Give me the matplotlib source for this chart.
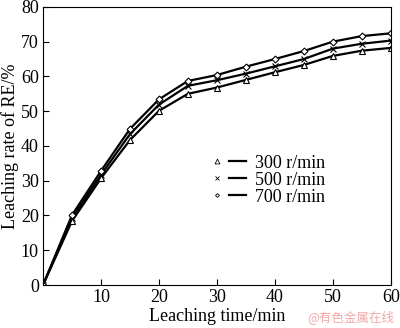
import matplotlib.pyplot as plt
from matplotlib.lines import Line2D
from matplotlib.legend_handler import HandlerTuple

plt.rcParams['font.family'] = ['Liberation Serif', 'DejaVu Serif']
plt.rcParams['mathtext.fontset'] = 'stix'

# Leaching time (min) and RE leaching rate (%) at each stirring speed
time_min = [0, 5, 10, 15, 20, 25, 30, 35, 40, 45, 50, 55, 60]
rate_300 = [0, 18.4, 30.7, 41.7, 50.1, 55.0, 56.8, 59.0, 61.2, 63.3, 65.9, 67.4, 68.2]
rate_500 = [0, 19.2, 31.7, 43.4, 51.9, 57.3, 58.9, 60.8, 62.9, 65.0, 68.0, 69.4, 70.3]
rate_700 = [0, 20.1, 32.8, 44.9, 53.4, 58.7, 60.4, 62.8, 65.0, 67.3, 70.0, 71.6, 72.4]
labels = ['300 r/min', '500 r/min', '700 r/min']
markers = ['^', 'x', 'D']
msizes = [5, 4.5, 3.5]

fig = plt.figure(figsize=(4.0, 3.28), dpi=100)
ax = fig.add_axes([0.1075, 0.131, 0.8695, 0.848])

handles = []
for rate, mk, ms, lab in zip([rate_300, rate_500, rate_700], markers, msizes, labels):
    ax.plot(time_min, rate, color='black', lw=1.6, marker=mk, ms=ms,
            mfc='white', mec='black', mew=0.8)
    mh = Line2D([], [], ls='none', marker=mk, ms=ms - 1.5, mfc='white',
                mec='black', mew=0.6)
    lh = Line2D([], [], color='black', lw=1.6)
    handles.append(((mh, lh), lab))

ax.legend([h for h, _ in handles], [l for _, l in handles],
          handler_map={tuple: HandlerTuple(ndivide=None, pad=0.2)},
          loc='upper left', bbox_to_anchor=(0.455, 0.495), frameon=False,
          fontsize=13, handlelength=2.1, handletextpad=0.5,
          labelspacing=0.0, borderaxespad=0)

ax.set_xlim(0, 60)
ax.set_ylim(0, 80)
ax.set_xticks(range(0, 61, 10))
ax.set_xticklabels([''] + [str(v) for v in range(10, 61, 10)])
ax.set_yticks(range(0, 81, 10))
ax.tick_params(direction='in', length=4, width=0.8, labelsize=13,
               pad=3, colors='black')
for sp in ax.spines.values():
    sp.set_linewidth(0.8)

ax.set_xlabel('Leaching time/min', fontsize=13, labelpad=1)
ax.set_ylabel('Leaching rate of RE/%', fontsize=13, labelpad=1)

fig.text(0.985, 0.012, '@有色金属在线', ha='right', va='bottom',
         fontsize=9, color='#f2a8a8',
         family=['Noto Sans CJK SC', 'DejaVu Sans'])

fig.savefig('out.png', dpi=100)
